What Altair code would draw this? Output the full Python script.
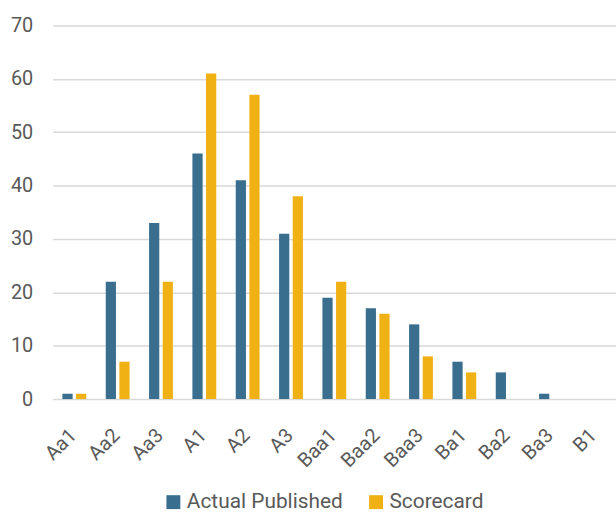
import altair as alt
import pandas as pd

categories = ["Aa1", "Aa2", "Aa3", "A1", "A2", "A3", "Baa1", "Baa2", "Baa3", "Ba1", "Ba2", "Ba3", "B1"]
actual = [1, 22, 33, 46, 41, 31, 19, 17, 14, 7, 5, 1, 0]
scorecard = [1, 7, 22, 61, 57, 38, 22, 16, 8, 5, 0, 0, 0]
series = ["Actual Published", "Scorecard"]
colors = ["#3A6E8F", "#F0B114"]

rows = []
for c, a, s in zip(categories, actual, scorecard):
    rows.append({"cat": c, "series": series[0], "value": a})
    rows.append({"cat": c, "series": series[1], "value": s})
df = pd.DataFrame(rows)

FONT = "Roboto"
GRAY = "#595959"

chart = alt.Chart(df).mark_bar().encode(
    x=alt.X("cat:N", sort=categories, title=None,
            scale=alt.Scale(paddingInner=0.45, paddingOuter=0.225),
            axis=alt.Axis(labelAngle=-45, labelFontSize=20, labelFont=FONT, labelColor=GRAY,
                          ticks=False, domain=False, labelPadding=26, labelOffset=-8, grid=False)),
    xOffset=alt.XOffset("series:N", sort=series, scale=alt.Scale(paddingInner=0.25)),
    y=alt.Y("value:Q", title=None,
            scale=alt.Scale(domain=[0, 70]),
            axis=alt.Axis(values=[0, 10, 20, 30, 40, 50, 60, 70], labelFontSize=20, labelFont=FONT,
                          labelColor=GRAY, ticks=False, domain=False, labelPadding=20,
                          gridColor="#D9D9D9", gridWidth=1.5)),
    color=alt.Color("series:N", sort=series, title=None,
                    scale=alt.Scale(domain=series, range=colors),
                    legend=alt.Legend(orient="none", direction="horizontal", legendX=111, legendY=469,
                                      symbolType="square", symbolSize=196, symbolStrokeWidth=0,
                                      labelFont=FONT, labelFontSize=21, labelColor=GRAY,
                                      labelOffset=3, columnPadding=22, padding=0)),
).properties(
    width=567, height=376,
    autosize=alt.AutoSizeParams(type="none"),
    padding={"left": 53, "top": 24, "right": 0, "bottom": 112},
).configure_view(stroke=None)

chart.save("out.html", embed_options={"renderer": "svg", "actions": False})
